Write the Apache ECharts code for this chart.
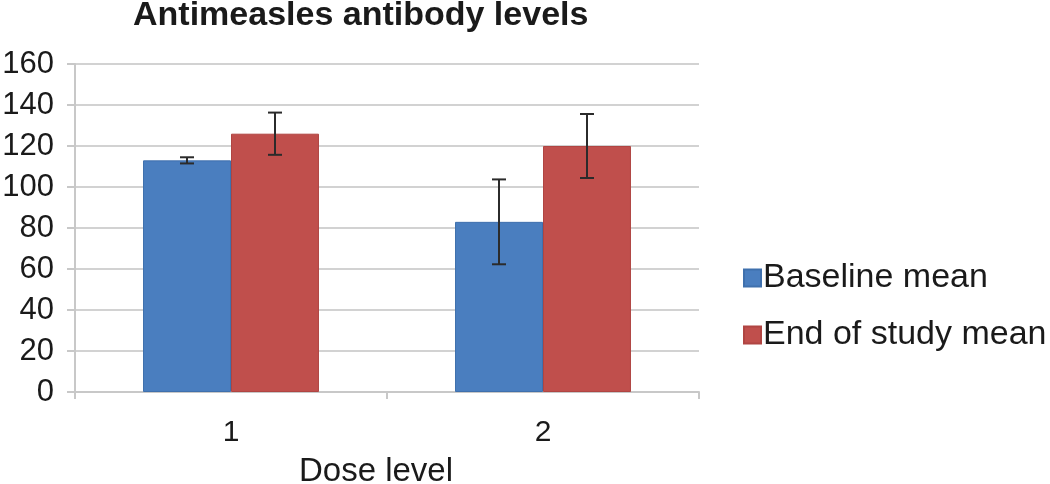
<!DOCTYPE html>
<html><head><meta charset="utf-8">
<script src="https://cdn.jsdelivr.net/npm/echarts@6/dist/echarts.min.js"></script>
<style>html,body{margin:0;padding:0;background:#fff}#c{width:1050px;height:484px}</style>
</head><body><div id="c"></div>
<script>
const categories = ['1', '2'];
const baselineMean = [113, 83];
const baselineErr = [1.5, 20.7];
const endMean = [126, 120];
const endErr = [10.3, 15.6];
const seriesNames = ['Baseline mean', 'End of study mean'];

const FONT = 'Liberation Sans, Arial, sans-serif';
const BAR_FRAC = 0.282;

function errSeries(means, errs, side) {
  return {
    type: 'custom',
    z: 10,
    silent: true,
    data: means.map((m, i) => [i, m, errs[i]]),
    renderItem: function (params, api) {
      const idx = api.value(0), m = api.value(1), e = api.value(2);
      const band = api.size([1, 0])[0];
      const off = side * band * BAR_FRAC / 2;
      const hi = api.coord([idx, m + e]);
      const lo = api.coord([idx, m - e]);
      const x = hi[0] + off;
      const cap = 7;
      const st = { stroke: '#2b2b2b', lineWidth: 2 };
      return {
        type: 'group',
        children: [
          { type: 'line', shape: { x1: x, y1: hi[1], x2: x, y2: lo[1] }, style: st },
          { type: 'line', shape: { x1: x - cap, y1: hi[1], x2: x + cap, y2: hi[1] }, style: st },
          { type: 'line', shape: { x1: x - cap, y1: lo[1], x2: x + cap, y2: lo[1] }, style: st }
        ]
      };
    }
  };
}

const chart = echarts.init(document.getElementById('c'), null, { renderer: 'canvas' });
chart.setOption({
  animation: false,
  textStyle: { fontFamily: FONT },
  title: {
    text: 'Antimeasles antibody levels',
    left: 128, top: -6,
    textStyle: { fontFamily: FONT, fontWeight: 'bold', fontSize: 34, color: '#1a1a1a' }
  },
  legend: {
    orient: 'vertical',
    left: 738, top: 256,
    itemWidth: 17, itemHeight: 17, itemGap: 23,
    icon: 'rect',
    textStyle: { fontFamily: FONT, fontSize: 34, color: '#1a1a1a', padding: [0, 0, 0, -3] },
    data: seriesNames
  },
  grid: { left: 75, right: 351, top: 64, bottom: 92, containLabel: false, outerBoundsMode: 'none' },
  xAxis: {
    type: 'category',
    data: categories,
    name: 'Dose level',
    nameLocation: 'middle',
    nameGap: 63,
    nameTextStyle: { fontFamily: FONT, fontSize: 33, color: '#1a1a1a', padding: [0, 22, 0, 0] },
    axisLine: { lineStyle: { color: '#c8c8c8', width: 2 } },
    axisTick: { show: true, length: 7, lineStyle: { color: '#c8c8c8', width: 2 } },
    axisLabel: { fontFamily: FONT, fontSize: 30, color: '#1a1a1a', margin: 26 }
  },
  yAxis: {
    type: 'value',
    min: 0, max: 160, interval: 20,
    axisLine: { show: true, lineStyle: { color: '#c8c8c8', width: 2 } },
    axisTick: { show: true, length: 8, lineStyle: { color: '#c8c8c8', width: 2 } },
    splitLine: { lineStyle: { color: '#d2d2d2', width: 2 } },
    axisLabel: { fontFamily: FONT, fontSize: 31, color: '#1a1a1a', margin: 21 }
  },
  series: [
    { name: seriesNames[0], type: 'bar', data: baselineMean, barWidth: (BAR_FRAC * 100) + '%', barGap: '0%',
      itemStyle: { color: '#4a7ebf', borderColor: '#3f70ad', borderWidth: 1 } },
    { name: seriesNames[1], type: 'bar', data: endMean, barWidth: (BAR_FRAC * 100) + '%', barGap: '0%',
      itemStyle: { color: '#c04f4c', borderColor: '#b04542', borderWidth: 1 } },
    errSeries(baselineMean, baselineErr, -1),
    errSeries(endMean, endErr, 1)
  ]
});
</script></body></html>
